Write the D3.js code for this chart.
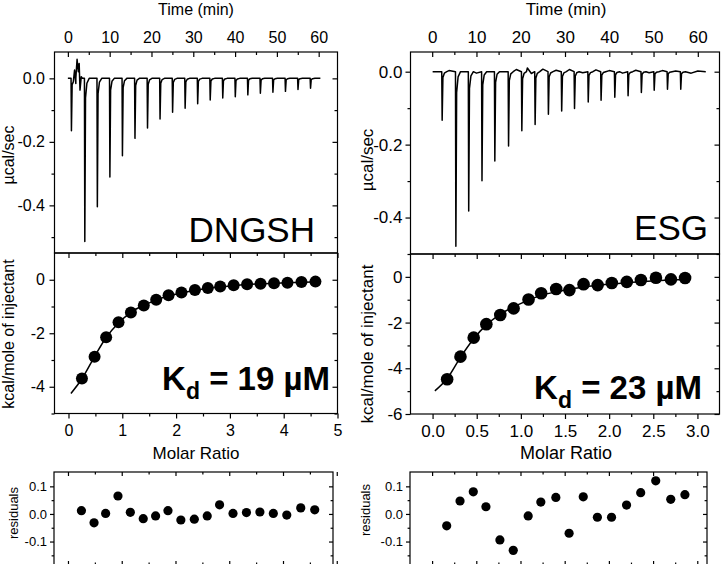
<!DOCTYPE html>
<html><head><meta charset="utf-8">
<script src="https://cdn.jsdelivr.net/npm/d3@7"></script>
<style>
body{margin:0;background:#fff;}
svg{display:block;}
</style></head><body>
<svg id="c" width="721" height="564"></svg>
<script>
// ---------------- DATA ----------------
// DNGSH (left)
const dngshInjTime = [0.8, 4, 7, 10, 13, 16, 19, 22, 25, 28, 31, 34, 37, 40, 43, 46, 49, 52, 55, 58];
const dngshPeak = [-0.165, -0.514, -0.404, -0.311, -0.244, -0.189, -0.156, -0.128, -0.107, -0.094, -0.080, -0.068, -0.062, -0.058, -0.052, -0.047, -0.044, -0.041, -0.035, -0.031];
const dngshNoiseT = [1.3, 1.6, 1.9, 2.2, 2.5, 2.7, 2.9, 3.2, 3.5];
const dngshNoiseV = [-0.011, 0.026, -0.016, 0.06, 0.021, 0.047, -0.037, 0.005, 0.0];
const dngshTraceSpan = [0, 60.4];
const dngshRatio = [0.25, 0.485, 0.70, 0.93, 1.16, 1.40, 1.63, 1.86, 2.10, 2.35, 2.59, 2.82, 3.07, 3.32, 3.57, 3.82, 4.07, 4.33, 4.59];
const dngshHeat = [-3.69, -2.88, -2.15, -1.59, -1.22, -0.96, -0.75, -0.58, -0.48, -0.38, -0.31, -0.25, -0.21, -0.17, -0.15, -0.13, -0.11, -0.08, -0.07];
const dngshFitRatio = [0.045, 0.25, 0.485, 0.70, 0.93, 1.16, 1.40, 1.63, 1.86, 2.10, 2.35, 2.59, 2.82, 3.07, 3.32, 3.57, 3.82, 4.07, 4.33, 4.59];
const dngshFitHeat = [-4.25, -3.70, -2.87, -2.16, -1.62, -1.22, -0.95, -0.76, -0.60, -0.49, -0.40, -0.32, -0.27, -0.22, -0.18, -0.15, -0.13, -0.11, -0.09, -0.08];
const dngshResid = [0.012, -0.032, 0.002, 0.065, 0.006, -0.017, -0.007, 0.012, -0.022, -0.019, -0.007, 0.033, 0.002, 0.005, 0.007, 0.002, -0.004, 0.022, 0.015];

// ESG (right)
const esgInjTime = [2.2, 5.3, 8.2, 11.2, 14.1, 17.2, 20.2, 23.2, 26.2, 29.2, 32.1, 35.2, 38.1, 41.2, 44.2, 47.2, 50.1, 53.1, 56.1];
const esgPeak = [-0.133, -0.479, -0.382, -0.299, -0.245, -0.204, -0.162, -0.145, -0.117, -0.108, -0.101, -0.083, -0.078, -0.070, -0.066, -0.057, -0.051, -0.048, -0.048];
const esgNoiseT = [3.8, 10.0, 19.0, 21.5, 22.4, 25.0, 28.0, 31.0, 34.0, 37.0, 40.0, 43.0, 46.0, 49.0, 52.0, 55.0, 58.5, 60.0];
const esgNoiseV = [0.003, -0.004, 0.006, 0.010, -0.005, 0.007, 0.004, 0.006, -0.003, 0.005, 0.003, -0.004, 0.004, -0.003, 0.003, 0.002, -0.004, 0.002];
const esgTraceSpan = [0.1, 61.8];
const esgRatio = [0.165, 0.316, 0.466, 0.609, 0.767, 0.918, 1.087, 1.23, 1.40, 1.55, 1.71, 1.87, 2.03, 2.20, 2.36, 2.53, 2.70, 2.86];
const esgHeat = [-4.48, -3.49, -2.66, -2.07, -1.67, -1.38, -0.99, -0.72, -0.53, -0.58, -0.32, -0.36, -0.27, -0.22, -0.14, -0.04, -0.11, -0.05];
const esgFitRatio = [0.026, 0.165, 0.316, 0.466, 0.609, 0.767, 0.918, 1.087, 1.23, 1.40, 1.55, 1.71, 1.87, 2.03, 2.20, 2.36, 2.53, 2.70, 2.86];
const esgFitHeat = [-4.99, -4.45, -3.52, -2.71, -2.10, -1.64, -1.31, -1.02, -0.81, -0.65, -0.54, -0.44, -0.37, -0.31, -0.26, -0.21, -0.17, -0.14, -0.11];
const esgResid = [-0.043, 0.047, 0.080, 0.026, -0.094, -0.132, -0.007, 0.043, 0.060, -0.070, 0.062, -0.012, -0.012, 0.032, 0.077, 0.120, 0.053, 0.070];

// spike profile (time offset in min, fraction of peak)
const spikeDt = [-0.04, 0.05, 0.22, 0.55, 1.1];
const spikeFrac = [0, 1, 0.12, 0.03, 0];

// tick values
const timeMajor = [0, 10, 20, 30, 40, 50, 60];
const timeMinor = [5, 15, 25, 35, 45, 55];
const powerMajor = [-0.4, -0.2, 0.0];
const powerMinor = [-0.5, -0.3, -0.1];
const dngshRatioMajor = [0, 1, 2, 3, 4, 5];
const dngshRatioMinor = [0.5, 1.5, 2.5, 3.5, 4.5];
const esgRatioMajor = [0, 0.5, 1.0, 1.5, 2.0, 2.5, 3.0];
const esgRatioMinor = [0.25, 0.75, 1.25, 1.75, 2.25, 2.75];
const dngshHeatMajor = [0, -2, -4];
const dngshHeatMinor = [-1, -3, -5];
const esgHeatMajor = [0, -2, -4, -6];
const esgHeatMinor = [-1, -3, -5];
const residMajor = [-0.1, 0.0, 0.1];
const residMinor = [-0.15, -0.05, 0.05];

// texts
const titleTime = "Time (min)";
const titleRatio = "Molar Ratio";
const titlePower = "µcal/sec";
const titleHeat = "kcal/mole of injectant";
const titleResid = "residuals";
const sampleNames = ["DNGSH", "ESG"];
const kdValues = ["19 µM", "23 µM"];

// ---------------- DRAW ----------------
const FONT = "'Liberation Sans', Arial, Helvetica, sans-serif";
const svg = d3.select("#c").attr("font-family", FONT);

function frame(x0, y0, x1, y1) {
  svg.append("rect").attr("x", x0).attr("y", y0).attr("width", x1 - x0).attr("height", y1 - y0)
    .attr("fill", "none").attr("stroke", "#000").attr("stroke-width", 1.2);
}
function ticks(orient, scale, pos, major, minor, dir, fmt, fs, pad, len) {
  len = len || 5;
  const mk = {left: d3.axisLeft, right: d3.axisRight, top: d3.axisTop, bottom: d3.axisBottom}[orient];
  const vert = orient === "left" || orient === "right";
  const tr = vert ? `translate(${pos},0)` : `translate(0,${pos})`;
  const a = mk(scale).tickValues(major).tickSizeInner(len * dir).tickSizeOuter(0)
    .tickPadding(pad == null ? 3 : pad).tickFormat(fmt || (() => ""));
  const g = svg.append("g").attr("transform", tr).call(a);
  g.select(".domain").remove();
  g.selectAll(".tick line").attr("stroke", "#000").attr("stroke-width", 1.2);
  g.selectAll(".tick text").attr("font-size", fs || 16).attr("fill", "#000").attr("font-family", FONT);
  if (minor) {
    const b = mk(scale).tickValues(minor).tickSizeInner(len * 0.6 * dir).tickSizeOuter(0).tickFormat(() => "");
    const gm = svg.append("g").attr("transform", tr).call(b);
    gm.select(".domain").remove();
    gm.selectAll(".tick line").attr("stroke", "#000").attr("stroke-width", 1.2);
  }
}
const f1 = d => (Math.abs(d) < 1e-9 ? 0 : d).toFixed(1);
const f0 = d => String(d);

function buildTrace(injT, peaks, noiseT, noiseV, span) {
  const pts = [[span[0], 0]];
  injT.forEach((t, i) => spikeDt.forEach((dt, k) => pts.push([t + dt, peaks[i] * spikeFrac[k]])));
  noiseT.forEach((t, i) => pts.push([t, noiseV[i]]));
  pts.push([span[1], 0]);
  pts.sort((a, b) => a[0] - b[0]);
  return pts;
}

function column(cfg) {
  const {x0, x1, rx1, yTop, yMid, yBot, rTop, rBot, fs, rfs, pad} = cfg;
  const xT = d3.scaleLinear().domain(cfg.timeDom).range([x0, x1]);
  const yP = d3.scaleLinear().domain(cfg.powDom).range([yMid, yTop]);
  const xR = d3.scaleLinear().domain(cfg.ratioDom).range([x0, x1]);
  const yH = d3.scaleLinear().domain(cfg.heatDom).range([yBot, yMid]);
  const xRr = d3.scaleLinear().domain(cfg.residRatioDom).range([x0 - 0.5, rx1]);
  const yR = d3.scaleLinear().domain([-0.185, 0.152]).range([rBot, rTop]);

  // top panel: raw trace
  const trace = buildTrace(cfg.injT, cfg.peaks, cfg.noiseT, cfg.noiseV, cfg.span);
  svg.append("path").datum(trace)
    .attr("d", d3.line().x(d => xT(d[0])).y(d => yP(d[1])))
    .attr("fill", "none").attr("stroke", "#000").attr("stroke-width", 1.5).attr("stroke-linejoin", "round");
  frame(x0, yTop, x1, yMid);
  ticks("top", xT, yTop, timeMajor, timeMinor, -1, f0, fs, 9);
  ticks("left", yP, x0, powerMajor, powerMinor, 1, f1, fs, pad);
  ticks("right", yP, x1, powerMajor, powerMinor, -1, null, fs);

  // middle panel: isotherm
  svg.append("path").datum(cfg.fitX.map((x, i) => [x, cfg.fitY[i]]))
    .attr("d", d3.line().curve(d3.curveMonotoneX).x(d => xR(d[0])).y(d => yH(d[1])))
    .attr("fill", "none").attr("stroke", "#000").attr("stroke-width", 1.5);
  svg.append("g").selectAll("circle").data(cfg.ratio).join("circle")
    .attr("cx", d => xR(d)).attr("cy", (d, i) => yH(cfg.heat[i])).attr("r", cfg.dotR).attr("fill", "#000");
  frame(x0, yMid, x1, yBot);
  ticks("top", xR, yMid, cfg.ratioMajor, cfg.ratioMinor, -1, null, fs);
  ticks("bottom", xR, yBot, cfg.ratioMajor, cfg.ratioMinor, 1, cfg.ratioFmt, fs, 6);
  ticks("left", yH, x0, cfg.heatMajor, cfg.heatMinor, 1, f0, fs, pad);
  ticks("right", yH, x1, cfg.heatMajor, cfg.heatMinor, -1, null, fs);

  // residuals panel
  svg.append("g").selectAll("circle").data(cfg.ratio).join("circle")
    .attr("cx", d => xRr(d)).attr("cy", (d, i) => yR(cfg.resid[i])).attr("r", 4.6).attr("fill", "#000");
  frame(x0 - 0.5, rTop, rx1, rBot);
  ticks("top", xRr, rTop, cfg.ratioMajor, cfg.ratioMinor, -1, null, rfs, 3, 4);
  ticks("bottom", xRr, rBot, cfg.ratioMajor, cfg.ratioMinor, -1, null, rfs, 3, 4);
  ticks("left", yR, x0 - 0.5, residMajor, residMinor, 1, f1, rfs, 3, 4);
  ticks("right", yR, rx1, residMajor, residMinor, -1, null, rfs, 3, 4);

  // titles
  svg.append("text").attr("x", cfg.timeTitleX).attr("y", cfg.timeTitleY).attr("text-anchor", "middle")
    .attr("font-size", fs).text(titleTime);
  svg.append("text").attr("x", cfg.timeTitleX).attr("y", 459).attr("text-anchor", "middle")
    .attr("font-size", fs + 1).text(titleRatio);
  svg.append("text").attr("transform", `translate(${cfg.yTitleX},${cfg.powTitleY}) rotate(-90)`)
    .attr("text-anchor", "middle").attr("font-size", fs).text(titlePower);
  svg.append("text").attr("transform", `translate(${cfg.yTitleX},${cfg.heatTitleY}) rotate(-90)`)
    .attr("text-anchor", "middle").attr("font-size", fs).text(titleHeat);
  svg.append("text").attr("transform", `translate(${cfg.residTitleX},${cfg.residTitleY}) rotate(-90)`)
    .attr("text-anchor", "middle").attr("font-size", 13).text(titleResid);

  // sample name
  svg.append("text").attr("x", cfg.nameX).attr("y", cfg.nameY).attr("text-anchor", "end")
    .attr("font-size", 35).text(cfg.name);
  // Kd
  const t = svg.append("text").attr("x", cfg.kdX).attr("y", cfg.kdY).attr("text-anchor", "end")
    .attr("font-weight", "bold").attr("font-size", 33).style("white-space", "pre");
  t.append("tspan").text("K");
  t.append("tspan").attr("font-size", 23).attr("dy", 9).text("d");
  t.append("tspan").attr("dy", -9).text(" = " + cfg.kd);
}

column({
  x0: 54.5, x1: 337.5, rx1: 333, yTop: 52, yMid: 253, yBot: 413.5, rTop: 472, rBot: 565,
  fs: 16, rfs: 13, pad: 4.5,
  timeDom: [-3.2, 64.5], powDom: [-0.55, 0.083], ratioDom: [-0.26, 5.0], heatDom: [-5, 1], residRatioDom: [-0.26, 4.93],
  injT: dngshInjTime, peaks: dngshPeak, noiseT: dngshNoiseT, noiseV: dngshNoiseV, span: dngshTraceSpan,
  ratio: dngshRatio, heat: dngshHeat, fitX: dngshFitRatio, fitY: dngshFitHeat, resid: dngshResid, dotR: 6,
  ratioMajor: dngshRatioMajor, ratioMinor: dngshRatioMinor, ratioFmt: f0,
  heatMajor: dngshHeatMajor, heatMinor: dngshHeatMinor,
  timeTitleX: 196, timeTitleY: 15, yTitleX: 14, powTitleY: 155, heatTitleY: 334, residTitleX: 18, residTitleY: 513,
  name: sampleNames[0], nameX: 315, nameY: 241.5, kd: kdValues[0], kdX: 330, kdY: 390
});

column({
  x0: 410.5, x1: 719.5, rx1: 707, yTop: 52, yMid: 254, yBot: 414, rTop: 472, rBot: 565,
  fs: 17, rfs: 13, pad: 3,
  timeDom: [-4.9, 64.9], powDom: [-0.50, 0.054], ratioDom: [-0.25, 3.25], heatDom: [-6, 1], residRatioDom: [-0.25, 3.11],
  injT: esgInjTime, peaks: esgPeak, noiseT: esgNoiseT, noiseV: esgNoiseV, span: esgTraceSpan,
  ratio: esgRatio, heat: esgHeat, fitX: esgFitRatio, fitY: esgFitHeat, resid: esgResid, dotR: 6.3,
  ratioMajor: esgRatioMajor, ratioMinor: esgRatioMinor, ratioFmt: f1,
  heatMajor: esgHeatMajor, heatMinor: esgHeatMinor,
  timeTitleX: 566, timeTitleY: 15, yTitleX: 373, powTitleY: 160, heatTitleY: 344, residTitleX: 370, residTitleY: 510,
  name: sampleNames[1], nameX: 708, nameY: 240, kd: kdValues[1], kdX: 702, kdY: 399
});
</script>
</body></html>
